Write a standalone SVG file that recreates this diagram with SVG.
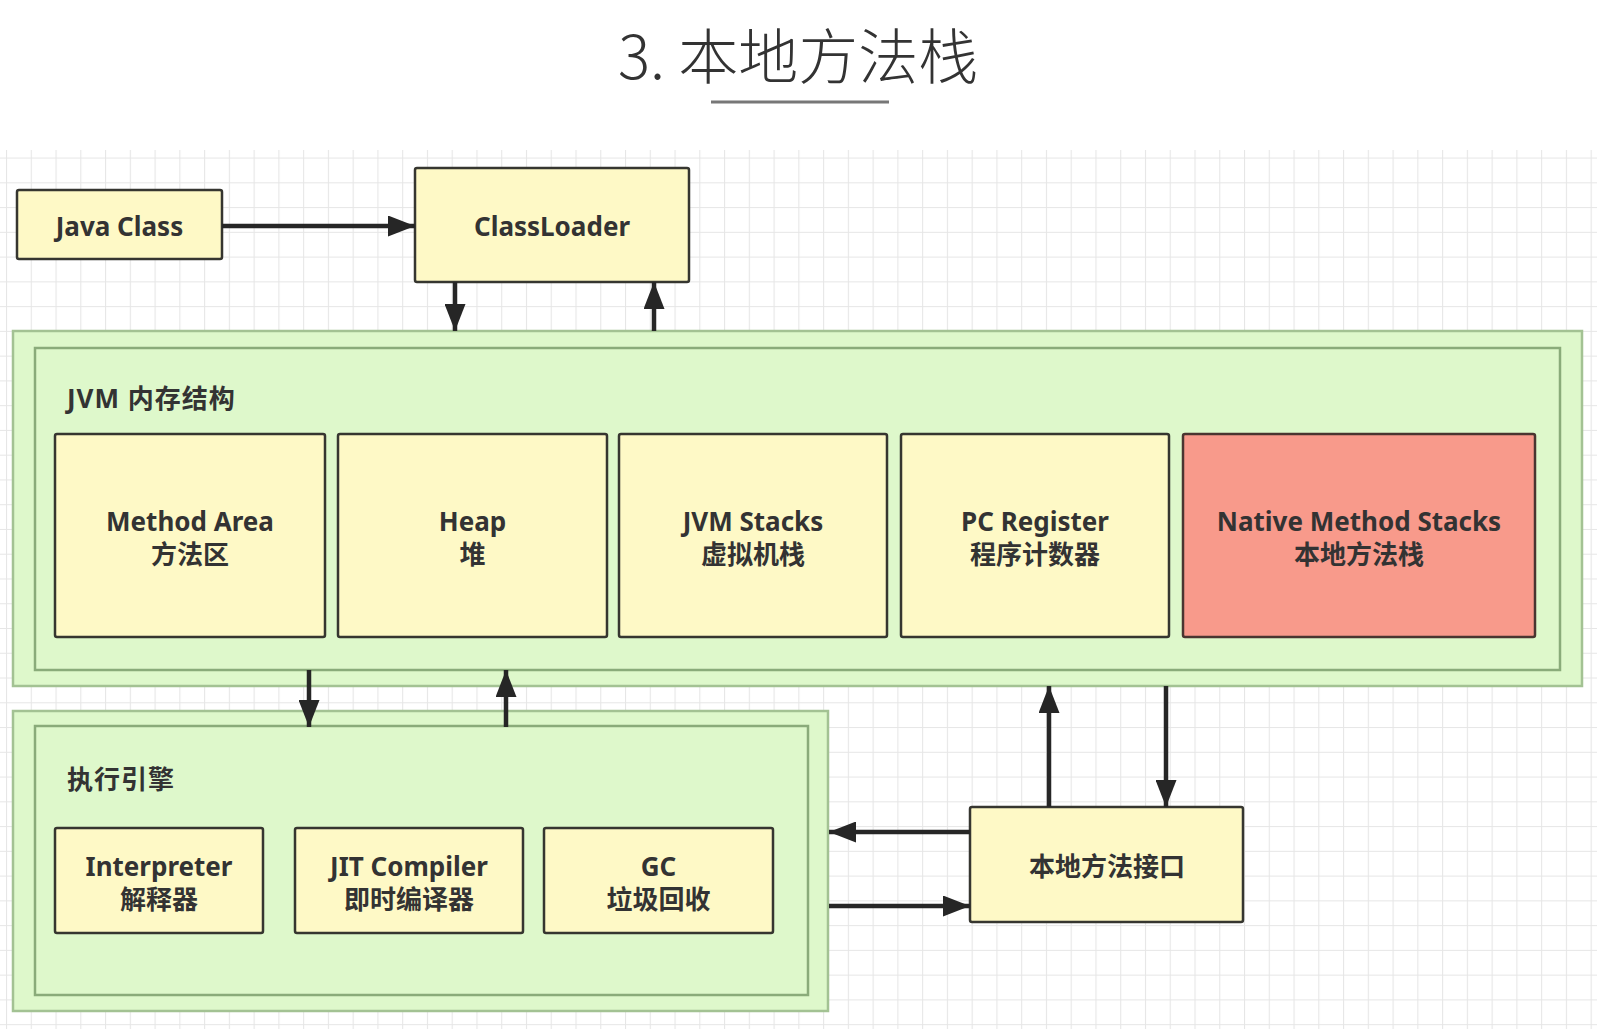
<svg xmlns="http://www.w3.org/2000/svg" width="1597" height="1029" viewBox="0 0 1597 1029">
<defs>
<pattern id="grid" patternUnits="userSpaceOnUse" x="6" y="9" width="24.76" height="24.76">
<path d="M24.76 0.5 L0.5 0.5 L0.5 24.76" fill="none" stroke="#e6e6e6" stroke-width="1.2"/>
</pattern>
<marker id="ah" markerUnits="userSpaceOnUse" markerWidth="27" markerHeight="21" refX="27" refY="10.5" orient="auto">
<path d="M0,0 L27,10.5 L0,21 z" fill="#262626"/>
</marker>
<style>
.box{fill:#fef9c6;stroke:#363630;stroke-width:2.5}
.red{fill:#f89a8b;stroke:#4a3530;stroke-width:2.5}
.gout{fill:#def8cb;stroke:#a3c293;stroke-width:2.5}
.gin{fill:#def8cb;stroke:#8aab7a;stroke-width:2.5}
.t{font-family:"Noto Sans","Noto Sans CJK SC",sans-serif;font-weight:700;font-size:26px;fill:#333;text-anchor:middle}
.lbl{font-family:"Noto Sans","Noto Sans CJK SC",sans-serif;font-weight:700;font-size:26px;fill:#333;letter-spacing:1px}
.c{fill:none;stroke:#262626;stroke-width:4.5;marker-end:url(#ah)}
</style>
</defs>
<rect x="0" y="0" width="1597" height="1029" fill="#ffffff"/>
<rect x="0" y="150" width="1597" height="879" fill="url(#grid)"/>
<g id="title">
<text x="618" y="79" font-family="'Noto Sans CJK SC','Noto Sans',sans-serif" font-weight="300" font-size="60" fill="#333">3. 本地方法栈</text>
<line x1="711" y1="102" x2="889" y2="102" stroke="#777" stroke-width="3"/>
</g>
<g id="jvm-memory">
<rect class="gout" x="13" y="331" width="1569" height="355"/>
<rect class="gin" x="35" y="348" width="1525" height="322"/>
<text class="lbl" x="67" y="408">JVM 内存结构</text>
</g>
<g id="exec-engine">
<rect class="gout" x="13" y="711" width="815" height="300"/>
<rect class="gin" x="35" y="726" width="773" height="269"/>
<text class="lbl" x="67" y="789">执行引擎</text>
</g>
<g id="java-class">
<rect class="box" x="17" y="190" width="205" height="69" rx="2"/>
<text class="t" x="119.5" y="236">Java Class</text>
</g>
<g id="classloader">
<rect class="box" x="415" y="168" width="274" height="114" rx="2"/>
<text class="t" x="552" y="236">ClassLoader</text>
</g>
<g id="method-area">
<rect class="box" x="55" y="434" width="270" height="203" rx="2"/>
<text class="t" x="190" y="531">Method Area</text>
<text class="t" x="190" y="564">方法区</text>
</g>
<g id="heap">
<rect class="box" x="338" y="434" width="269" height="203" rx="2"/>
<text class="t" x="472.5" y="531">Heap</text>
<text class="t" x="472.5" y="564">堆</text>
</g>
<g id="jvm-stacks">
<rect class="box" x="619" y="434" width="268" height="203" rx="2"/>
<text class="t" x="753" y="531">JVM Stacks</text>
<text class="t" x="753" y="564">虚拟机栈</text>
</g>
<g id="pc-register">
<rect class="box" x="901" y="434" width="268" height="203" rx="2"/>
<text class="t" x="1035" y="531">PC Register</text>
<text class="t" x="1035" y="564">程序计数器</text>
</g>
<g id="native-method-stacks">
<rect class="red" x="1183" y="434" width="352" height="203" rx="2"/>
<text class="t" x="1359" y="531">Native Method Stacks</text>
<text class="t" x="1359" y="564">本地方法栈</text>
</g>
<g id="interpreter">
<rect class="box" x="55" y="828" width="208" height="105" rx="2"/>
<text class="t" x="159" y="876">Interpreter</text>
<text class="t" x="159" y="909">解释器</text>
</g>
<g id="jit-compiler">
<rect class="box" x="295" y="828" width="228" height="105" rx="2"/>
<text class="t" x="409" y="876">JIT Compiler</text>
<text class="t" x="409" y="909">即时编译器</text>
</g>
<g id="gc">
<rect class="box" x="544" y="828" width="229" height="105" rx="2"/>
<text class="t" x="658.5" y="876">GC</text>
<text class="t" x="658.5" y="909">垃圾回收</text>
</g>
<g id="native-interface">
<rect class="box" x="970" y="807" width="273" height="115" rx="2"/>
<text class="t" x="1107" y="876">本地方法接口</text>
</g>
<g id="connectors">
<path class="c" d="M222,226 L415,226"/>
<path class="c" d="M455,282 L455,331"/>
<path class="c" d="M654,331 L654,282"/>
<path class="c" d="M309,670 L309,727"/>
<path class="c" d="M506,727 L506,670"/>
<path class="c" d="M1049,807 L1049,686"/>
<path class="c" d="M1166,686 L1166,807"/>
<path class="c" d="M970,832 L829,832"/>
<path class="c" d="M829,906 L970,906"/>
</g>
</svg>
